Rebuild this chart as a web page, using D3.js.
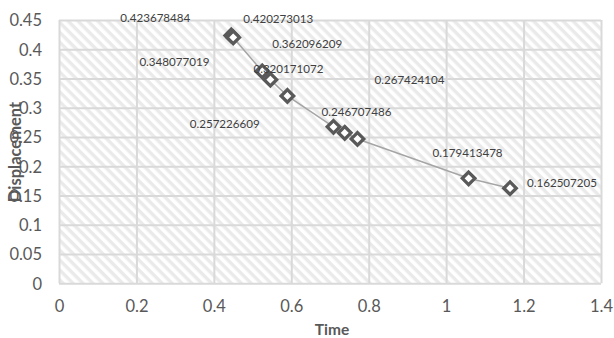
<!DOCTYPE html>
<html><head><meta charset="utf-8">
<script src="https://cdn.jsdelivr.net/npm/d3@7"></script>
<style>body{margin:0;background:#fff}svg{display:block}</style>
</head><body>
<script>
// data
const timeValues = [0.445, 0.450, 0.525, 0.546, 0.590, 0.709, 0.738, 0.771, 1.058, 1.165];
const displacementValues = [0.423678484, 0.420273013, 0.362096209, 0.348077019, 0.320171072, 0.267424104, 0.257226609, 0.246707486, 0.179413478, 0.162507205];
const dataLabels = ["0.423678484","0.420273013","0.362096209","0.348077019","0.320171072","0.267424104","0.257226609","0.246707486","0.179413478","0.162507205"];
const xTicks = [0, 0.2, 0.4, 0.6, 0.8, 1, 1.2, 1.4];
const yTicks = [0, 0.05, 0.1, 0.15, 0.2, 0.25, 0.3, 0.35, 0.4, 0.45];
const xTitle = "Time", yTitle = "Displacement";
// label placement (pixel offsets from each marker)
const labelOffsets = [[-76,-18],[45,-19],[45,-28],[-96,-18],[1,-27],[76,-47],[-120,-9],[-1,-27],[-1,-26],[52,-6]];

const W = 614, H = 338;
const m = {left: 59, right: 13, top: 20, bottom: 54.7};
const FONT = "Lato, 'Liberation Sans', Arial, sans-serif";
const svg = d3.select("body").append("svg").attr("width", W).attr("height", H);
const x = d3.scaleLinear().domain([0, 1.4]).range([m.left, W - m.right]);
const y = d3.scaleLinear().domain([0, 0.45]).range([H - m.bottom, m.top]);

const defs = svg.append("defs");
const pat = defs.append("pattern").attr("id","hatch").attr("patternUnits","userSpaceOnUse")
  .attr("width", 7).attr("height", 7).attr("patternTransform","rotate(45)");
pat.append("rect").attr("width",7).attr("height",7).attr("fill","#ffffff");
pat.append("rect").attr("width",7).attr("height",3.4).attr("fill","#eaeaea");

svg.append("rect").attr("x", x(0)).attr("y", y(0.45)).attr("width", x(1.4)-x(0)).attr("height", y(0)-y(0.45)).attr("fill","url(#hatch)");

// gridlines via axes
const gx = svg.append("g").attr("transform", `translate(0,${y(0)})`)
  .call(d3.axisBottom(x).tickValues(xTicks).tickSize(-(y(0)-y(0.45))).tickFormat(d3.format("")).tickPadding(17));
const gy = svg.append("g").attr("transform", `translate(${x(0)},0)`)
  .call(d3.axisLeft(y).tickValues(yTicks).tickSize(-(x(1.4)-x(0))).tickFormat(d3.format("")).tickPadding(17));
[gx, gy].forEach(g => {
  g.select(".domain").remove();
  g.selectAll(".tick line").attr("stroke","#d9d9d9").attr("stroke-width",2);
  g.selectAll(".tick text").attr("fill","#595959").style("font-family",FONT).style("font-size","16.5px");
});
gy.selectAll(".tick text").attr("dy","0.35em");
gx.selectAll(".tick text").attr("dy","0.71em").attr("y", 17);

const pts = timeValues.map((t,i)=>({t, d: displacementValues[i], label: dataLabels[i], off: labelOffsets[i]}));

svg.append("path").datum(pts)
  .attr("d", d3.line().x(p=>x(p.t)).y(p=>y(p.d)))
  .attr("fill","none").attr("stroke","#a5a5a5").attr("stroke-width",1.5);

const sym = d3.symbol().type(d3.symbolDiamond2).size(100);
svg.append("g").selectAll("path").data(pts).join("path")
  .attr("d", sym).attr("transform", p=>`translate(${x(p.t)},${y(p.d)})`)
  .attr("fill","#ffffff").attr("stroke","#595959").attr("stroke-width",3.3);

svg.append("g").selectAll("text").data(pts).join("text")
  .attr("x", p=>x(p.t)+p.off[0]).attr("y", p=>y(p.d)+p.off[1])
  .attr("text-anchor","middle").attr("dominant-baseline","central")
  .attr("fill","#404040").style("font-family",FONT).style("font-size","11.6px")
  .text(p=>p.label);

svg.append("text").attr("x", 332).attr("y", 335).attr("text-anchor","middle")
  .attr("fill","#595959").style("font-family",FONT).style("font-size","15.5px").style("font-weight","bold").text(xTitle);
svg.append("text").attr("transform","translate(15,152) rotate(-90)").attr("text-anchor","middle").attr("dominant-baseline","central")
  .attr("fill","#595959").style("font-family",FONT).style("font-size","16.5px").style("font-weight","bold").text(yTitle);
</script>
</body></html>
